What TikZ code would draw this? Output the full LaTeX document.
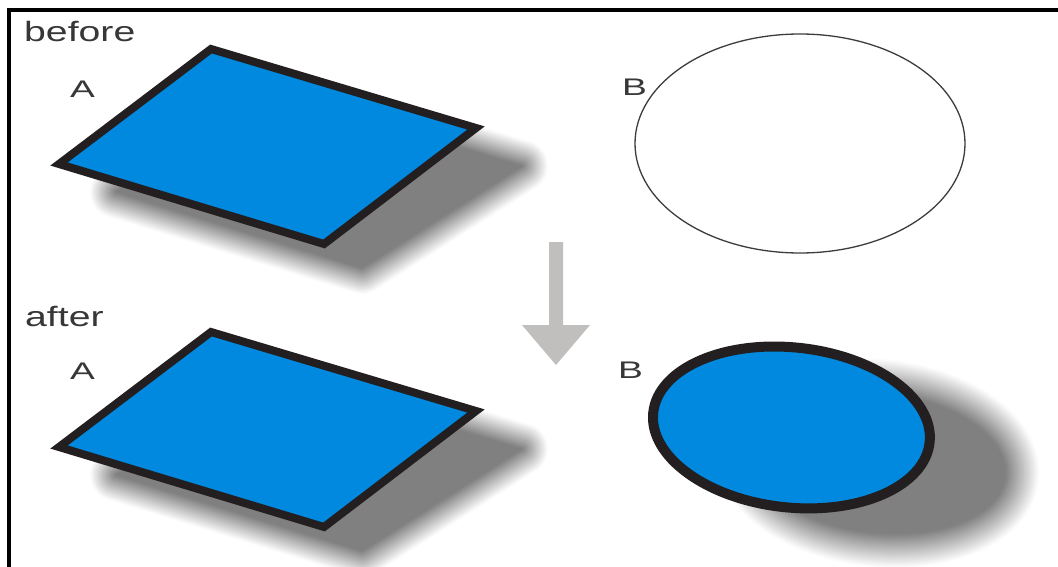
\documentclass[tikz,border=0pt]{standalone}
\usepackage{fontspec}
\usepackage{graphicx}
\newfontfamily\labfont{Liberation Sans}
\definecolor{shapeblue}{RGB}{0,137,222}
\definecolor{edgeblack}{RGB}{35,31,32}
\definecolor{shadowgray}{RGB}{128,128,128}
\definecolor{arrowgray}{RGB}{192,191,190}
\definecolor{textgray}{RGB}{55,55,55}
\definecolor{outlinegray}{RGB}{60,60,60}
\newcommand\mkshadow[3][]{%
  \foreach \k in {0,...,19}{%
    \pgfmathsetmacro\ww{#3*2*(20-\k)/20}%
    \pgfmathtruncatemacro\cc{100*(\k+0.5)/20}%
    \draw[#1, line width=\ww pt, line join=round, draw=shadowgray!\cc!white] #2;
  }%
  \fill[#1, shadowgray] #2;
}
\begin{document}
\begin{tikzpicture}[x=1pt,y=-1pt,
  lbl/.style={font=\labfont\fontsize{24}{26}\selectfont, text=textgray, inner sep=0pt, anchor=base west},
  ttl/.style={lbl, font=\labfont\fontsize{28}{30}\selectfont},
  quad/.style={fill=shapeblue, draw=edgeblack, line width=8pt, line join=miter},
  oval/.style={fill=shapeblue, draw=edgeblack, line width=10pt},
  thinoval/.style={draw=outlinegray, line width=1.3pt},
  frame/.style={draw=black, line width=4pt, line join=miter}]
\useasboundingbox (0,0) rectangle (1058,567);
\fill[white] (0,0) rectangle (1058,567);

% frame
\coordinate (fb) at (9,567);
\coordinate (fc) at (9,10);
\coordinate (fr) at (1058,10);
\draw[frame] (fb) -- (fc) -- (fr);

% shadows
\mkshadow{(116,192) -- (276,92) -- (522,166) -- (362,268) -- cycle}{26}
\mkshadow{(116,475) -- (276,375) -- (522,449) -- (362,551) -- cycle}{26}
\mkshadow[rotate around={-6.2:(878,463)}]{(878,463) ellipse [x radius=128pt, y radius=70pt]}{34}

% before: shape A
\coordinate (a1) at (211,49);
\coordinate (a2) at (476,128);
\coordinate (a3) at (324,244);
\coordinate (a4) at (59,164);
\draw[quad] (a1) -- (a2) -- (a3) -- (a4) -- cycle;

% before: shape B
\coordinate (bc) at (800,143.5);
\draw[thinoval] (bc) ellipse [x radius=165pt, y radius=109.5pt];

% after: shape A
\coordinate (c1) at (211,332);
\coordinate (c2) at (476,411);
\coordinate (c3) at (324,527);
\coordinate (c4) at (59,447);
\draw[quad] (c1) -- (c2) -- (c3) -- (c4) -- cycle;

% after: shape B
\coordinate (dc) at (791.5,427.5);
\draw[oval, rotate around={-6.2:(dc)}] (dc) ellipse [x radius=139pt, y radius=80pt];

% arrow
\fill[arrowgray] (549,242) -- (563,242) -- (563,325) -- (590,325) -- (556,365) -- (522,325) -- (549,325) -- cycle;

% labels
\node[ttl] (tbefore) at (24,42) {\scalebox{1.4}[1]{before}};
\node[ttl] (tafter) at (25,326) {\scalebox{1.4}[1]{after}};
\node[lbl] (la1) at (70,98) {\scalebox{1.55}[1]{A}};
\node[lbl] (lb1) at (622,96) {\scalebox{1.55}[1]{B}};
\node[lbl] (la2) at (70,379) {\scalebox{1.55}[1]{A}};
\node[lbl] (lb2) at (618,378) {\scalebox{1.55}[1]{B}};
\end{tikzpicture}
\end{document}
